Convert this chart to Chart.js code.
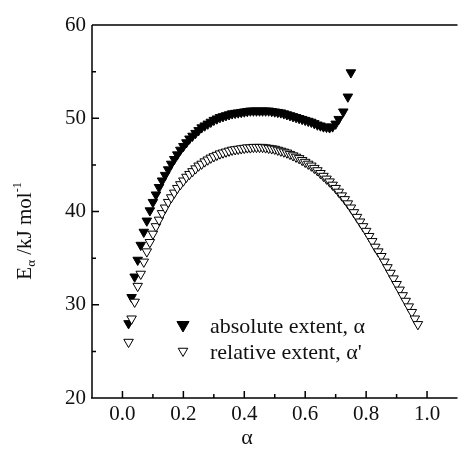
<!DOCTYPE html>
<html>
<head>
<meta charset="utf-8">
<script src="https://cdn.jsdelivr.net/npm/chart.js@4.4.1/dist/chart.umd.min.js"></script>
<style>html,body{margin:0;padding:0;background:#fff}canvas{display:block}</style>
</head>
<body>
<canvas id="c" width="464" height="452"></canvas>
<script>
// absolute extent α (filled ▼)
const absAlpha = [0.02,0.03,0.04,0.05,0.06,0.07,0.08,0.09,0.10,0.11,0.12,0.13,0.14,0.15,0.16,0.17,0.18,0.19,0.20,
  0.21,0.22,0.23,0.24,0.25,0.26,0.27,0.28,0.29,0.30,0.31,0.32,0.33,0.34,0.35,0.36,0.37,0.38,0.39,0.40,
  0.41,0.42,0.43,0.44,0.45,0.46,0.47,0.48,0.49,0.50,0.51,0.52,0.53,0.54,0.55,0.56,0.57,0.58,0.59,0.60,
  0.61,0.62,0.63,0.64,0.65,0.66,0.67,0.68,0.69,0.70,0.71,0.725,0.74,0.75];
const absE = [28.0,30.8,33.0,34.8,36.4,37.8,39.0,40.1,41.0,41.8,42.6,43.3,43.9,44.5,45.1,45.6,46.1,46.6,47.0,
  47.4,47.8,48.1,48.4,48.7,49.0,49.2,49.4,49.6,49.8,49.95,50.1,50.2,50.3,50.4,50.5,50.55,50.6,50.65,50.7,
  50.75,50.8,50.8,50.8,50.8,50.8,50.8,50.8,50.75,50.7,50.65,50.6,50.5,50.4,50.3,50.2,50.1,50.0,49.9,49.8,
  49.7,49.6,49.45,49.3,49.2,49.1,49.05,49.0,49.1,49.4,49.9,50.7,52.3,54.9];

// relative extent α' (open ▽)
const relAlpha = [0.02,0.03,0.04,0.05,0.06,0.07,0.08,0.09,0.10,0.11,0.12,0.13,0.14,0.15,0.16,0.17,0.18,0.19,0.20,
  0.21,0.22,0.23,0.24,0.25,0.26,0.27,0.28,0.29,0.30,0.31,0.32,0.33,0.34,0.35,0.36,0.37,0.38,0.39,0.40,
  0.41,0.42,0.43,0.44,0.45,0.46,0.47,0.48,0.49,0.50,0.51,0.52,0.53,0.54,0.55,0.56,0.57,0.58,0.59,0.60,
  0.61,0.62,0.63,0.64,0.65,0.66,0.67,0.68,0.69,0.70,0.71,0.72,0.73,0.74,0.75,0.76,0.77,0.78,0.79,0.80,
  0.81,0.82,0.83,0.84,0.85,0.86,0.87,0.88,0.89,0.90,0.91,0.92,0.93,0.94,0.95,0.96,0.97];
const relE = [26.0,28.5,30.3,32.0,33.3,34.6,35.7,36.7,37.6,38.4,39.1,39.8,40.4,41.0,41.5,42.0,42.5,42.9,43.3,
  43.7,44.0,44.3,44.6,44.9,45.1,45.35,45.55,45.75,45.9,46.05,46.2,46.3,46.4,46.5,46.6,46.65,46.7,46.75,46.8,
  46.85,46.85,46.9,46.9,46.9,46.9,46.85,46.8,46.75,46.7,46.6,46.5,46.4,46.3,46.15,46.0,45.85,45.7,45.5,45.3,
  45.1,44.9,44.65,44.4,44.1,43.8,43.5,43.2,42.85,42.5,42.1,41.7,41.3,40.85,40.4,39.9,39.4,38.9,38.4,37.9,
  37.35,36.8,36.2,35.7,35.2,34.6,34.0,33.4,32.8,32.2,31.6,31.0,30.4,29.8,29.2,28.5,27.9];

const xTicks = [0, 0.2, 0.4, 0.6, 0.8, 1.0];
const xMinor = [0.1, 0.3, 0.5, 0.7, 0.9];
const yTicks = [20, 30, 40, 50, 60];
const yMinor = [25, 35, 45, 55];
const legendLabels = ['absolute extent, \u03b1', 'relative extent, \u03b1\''];

const SERIF = '"Liberation Serif", "DejaVu Serif", serif';
const toPts = (xs, ys) => xs.map((v, i) => ({ x: v, y: ys[i] }));

// 框線、向內刻度、軸標題、圖例
const framePlugin = {
  id: 'frame',
  afterDraw(chart) {
    const { ctx, chartArea: a, scales: { x, y } } = chart;
    ctx.save();
    ctx.strokeStyle = '#000'; ctx.lineWidth = 1.5;
    ctx.beginPath();
    ctx.moveTo(a.left, a.top); ctx.lineTo(a.right, a.top);
    ctx.moveTo(a.left, a.top); ctx.lineTo(a.left, a.bottom);
    ctx.moveTo(a.left - 1, a.bottom); ctx.lineTo(a.right, a.bottom);
    xTicks.forEach(v => { const p = x.getPixelForValue(v); ctx.moveTo(p, a.bottom); ctx.lineTo(p, a.bottom - 7); });
    xMinor.forEach(v => { const p = x.getPixelForValue(v); ctx.moveTo(p, a.bottom); ctx.lineTo(p, a.bottom - 4); });
    yTicks.forEach(v => { const p = y.getPixelForValue(v); ctx.moveTo(a.left, p); ctx.lineTo(a.left + 7, p); });
    yMinor.forEach(v => { const p = y.getPixelForValue(v); ctx.moveTo(a.left, p); ctx.lineTo(a.left + 4, p); });
    ctx.stroke();

    ctx.fillStyle = '#111';
    // x 標題
    ctx.font = `22px ${SERIF}`; ctx.textAlign = 'center'; ctx.textBaseline = 'alphabetic';
    ctx.fillText('\u03b1', 247, 444);

    // y 標題 (旋轉)
    ctx.save();
    ctx.translate(24, 231); ctx.rotate(-Math.PI / 2);
    const parts = [
      { t: 'E', f: 21, dy: 7 },
      { t: '\u03b1', f: 13, dy: 11 },
      { t: ' /kJ mol', f: 21, dy: 7 },
      { t: '-1', f: 12, dy: -3 }
    ];
    let w = 0;
    parts.forEach(p => { ctx.font = `${p.f}px ${SERIF}`; p.w = ctx.measureText(p.t).width; w += p.w; });
    let cx = -w / 2;
    ctx.textAlign = 'left';
    parts.forEach(p => { ctx.font = `${p.f}px ${SERIF}`; ctx.fillText(p.t, cx, p.dy); cx += p.w; });
    ctx.restore();

    // 圖例
    const H = Chart.helpers;
    ctx.lineWidth = 1; ctx.strokeStyle = '#000';
    ctx.fillStyle = '#000';
    H.drawPoint(ctx, { pointStyle: 'triangle', rotation: 180, radius: 7, borderWidth: 1 }, 183, 325);
    ctx.fillStyle = '#fff';
    H.drawPoint(ctx, { pointStyle: 'triangle', rotation: 180, radius: 5.5, borderWidth: 1 }, 183, 351);
    ctx.fillStyle = '#111';
    ctx.font = `22px ${SERIF}`; ctx.textAlign = 'left'; ctx.textBaseline = 'middle';
    ctx.fillText(legendLabels[0], 210, 327);
    ctx.fillText(legendLabels[1], 210, 353);
    ctx.restore();
  }
};

new Chart(document.getElementById('c'), {
  type: 'scatter',
  data: {
    datasets: [
      { label: legendLabels[0], data: toPts(absAlpha, absE), order: 1,
        pointStyle: 'triangle', rotation: 180, pointRadius: 5.5, pointBorderWidth: 1,
        backgroundColor: '#000', borderColor: '#000' },
      { label: legendLabels[1], data: toPts(relAlpha, relE), order: 0,
        pointStyle: 'triangle', rotation: 180, pointRadius: 5.5, pointBorderWidth: 1,
        backgroundColor: '#fff', borderColor: '#000' }
    ]
  },
  options: {
    responsive: false, animation: false, devicePixelRatio: 1,
    layout: { padding: { top: 25, right: 0, left: 0, bottom: 0 } },
    plugins: { legend: { display: false }, tooltip: { enabled: false } },
    scales: {
      x: {
        type: 'linear', min: -0.1, max: 1.1,
        grid: { display: false, drawTicks: false }, border: { display: false },
        afterBuildTicks: s => { s.ticks = xTicks.map(v => ({ value: v })); },
        afterFit: s => { s.height = 54; s.paddingLeft = 0; s.paddingRight = 0; },
        ticks: { color: '#111', padding: 4, font: { family: SERIF, size: 21 }, callback: v => v.toFixed(1) }
      },
      y: {
        min: 20, max: 60,
        grid: { display: false, drawTicks: false }, border: { display: false },
        afterBuildTicks: s => { s.ticks = yTicks.map(v => ({ value: v })); },
        afterFit: s => { s.width = 92; s.paddingTop = 0; s.paddingBottom = 0; },
        ticks: { color: '#111', padding: 6, font: { family: SERIF, size: 21 } }
      }
    }
  },
  plugins: [framePlugin]
});
</script>
</body>
</html>
